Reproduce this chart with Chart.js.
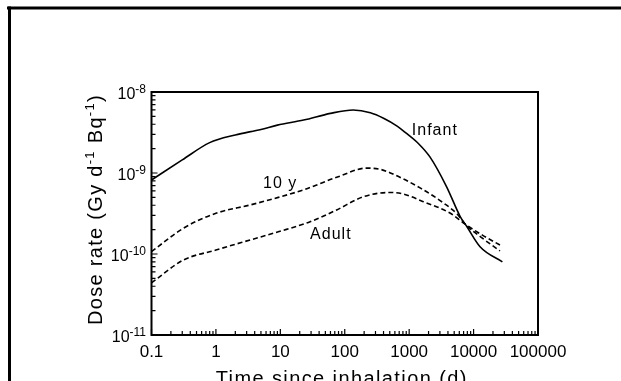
<!DOCTYPE html>
<html>
<head>
<meta charset="utf-8">
<title>Dose rate vs time since inhalation</title>
<script src="https://cdn.jsdelivr.net/npm/chart.js@4.4.1/dist/chart.umd.min.js"></script>
<style>
  html, body { margin: 0; padding: 0; background: #fff; }
  #wrap { position: relative; width: 621px; height: 381px; }
</style>
</head>
<body>
<div id="wrap"><canvas id="doseChart"></canvas></div>
<script>
// **************************
//    DATA
// **************************
const infantTime = [0.1, 0.3, 0.8, 2, 5, 9, 23, 60, 135, 250, 400, 650, 900, 1400, 2100, 3800, 6200, 7800, 12600, 28000];
const infantDose = [8.2e-10, 1.45e-9, 2.37e-9, 2.95e-9, 3.45e-9, 3.9e-9, 4.5e-9, 5.45e-9, 6.0e-9, 5.55e-9, 4.75e-9, 3.8e-9, 3.1e-9, 2.3e-9, 1.58e-9, 6.8e-10, 2.9e-10, 2.2e-10, 1.23e-10, 8.0e-11];

const tenYearTime = [0.1, 0.31, 1, 3.4, 9.3, 23, 75, 220, 355, 500, 1500, 3400, 5550, 7400, 13500, 25700];
const tenYearDose = [1.07e-10, 2.07e-10, 3.18e-10, 4.03e-10, 5.0e-10, 6.2e-10, 8.85e-10, 1.15e-9, 1.11e-9, 1.01e-9, 6.5e-10, 4.27e-10, 3.12e-10, 2.34e-10, 1.58e-10, 1.09e-10];

const adultTime = [0.1, 0.31, 1, 3.4, 9.3, 29, 75, 195, 500, 810, 1660, 4370, 7400, 13500, 25700];
const adultDose = [4.4e-11, 8.4e-11, 1.12e-10, 1.49e-10, 1.88e-10, 2.5e-10, 3.5e-10, 5.1e-10, 5.75e-10, 5.5e-10, 4.43e-10, 3.18e-10, 2.34e-10, 1.72e-10, 1.29e-10];

const xTickValues = [0.1, 1, 10, 100, 1000, 10000, 100000];
const yTickExponents = [-11, -10, -9, -8];

// curve names written next to the lines (anchor in data units)
const curveLabels = ["Infant", "10 y", "Adult"];
const curveLabelTime = [1100, 5.4, 29];
const curveLabelDose = [2.95e-9, 6.5e-10, 1.53e-10];

const FONT = "'Liberation Sans', Arial, Helvetica, sans-serif";
Chart.defaults.font.family = FONT;

function toPoints(times, doses) {
    return times.map((t, i) => ({ x: t, y: doses[i] }));
}

// draws text pieces, some of them raised as superscripts
function drawPieces(ctx, pieces, x, y, align) {
    const widths = pieces.map(p => {
        ctx.font = p.size + "px " + FONT;
        return ctx.measureText(p.text).width;
    });
    const total = widths.reduce((a, b) => a + b, 0);
    let cx = align === "right" ? x - total : align === "center" ? x - total / 2 : x;
    pieces.forEach((p, i) => {
        ctx.font = p.size + "px " + FONT;
        ctx.fillText(p.text, cx, y - (p.rise || 0));
        cx += widths[i];
    });
}

// **************************
//    FRAME, TICKS, TEXT
// **************************
const decorPlugin = {
    id: "decor",
    afterDraw(chart) {
        const ctx = chart.ctx;
        const xs = chart.scales.x;
        const ys = chart.scales.y;
        const { left, right, top, bottom } = chart.chartArea;

        ctx.save();
        ctx.fillStyle = "#000";
        ctx.strokeStyle = "#000";

        // outer frame: only top and left edges show
        ctx.fillRect(7, 6.5, 614, 3);
        ctx.fillRect(8, 6.5, 3, 381);

        // plot box
        ctx.lineWidth = 2;
        ctx.strokeRect(left, top, right - left, bottom - top);

        // inward tick marks
        ctx.lineWidth = 1.2;
        ctx.beginPath();
        for (let e = -1; e <= 5; e++) {
            for (let m = 1; m <= 9; m++) {
                const v = m * Math.pow(10, e);
                if (v > xs.max * 1.0001) break;
                const px = xs.getPixelForValue(v);
                const len = m === 1 ? 6 : 4;
                ctx.moveTo(px, bottom);
                ctx.lineTo(px, bottom - len);
            }
        }
        for (let e = -11; e <= -8; e++) {
            for (let m = 1; m <= 9; m++) {
                const v = m * Math.pow(10, e);
                if (v > ys.max * 1.0001) break;
                const py = ys.getPixelForValue(v);
                const len = m === 1 ? 6 : 4;
                ctx.moveTo(left, py);
                ctx.lineTo(left + len, py);
            }
        }
        ctx.stroke();

        // y tick labels: 10 with exponent
        ctx.textBaseline = "middle";
        ctx.textAlign = "left";
        yTickExponents.forEach(e => {
            const py = ys.getPixelForValue(Math.pow(10, e));
            drawPieces(ctx, [
                { text: "10", size: 16 },
                { text: "-" + Math.abs(e), size: 12, rise: 5 }
            ], left - 5.5, py + 3, "right");
        });

        // y axis title (rotated)
        ctx.save();
        ctx.translate(left - 49.5, (top + bottom) / 2 - 4);
        ctx.rotate(-Math.PI / 2);
        ctx.textBaseline = "alphabetic";
        ctx.letterSpacing = "1.3px";
        drawPieces(ctx, [
            { text: "Dose rate (Gy d", size: 20 },
            { text: "-1", size: 13, rise: 8 },
            { text: " Bq", size: 20 },
            { text: "-1", size: 13, rise: 8 },
            { text: ")", size: 20 }
        ], 0, 0, "center");
        ctx.restore();

        // x axis title (cut by the bottom edge in the original)
        ctx.save();
        ctx.letterSpacing = "1.4px";
        ctx.textBaseline = "alphabetic";
        drawPieces(ctx, [{ text: "Time since inhalation (d)", size: 20 }],
            (left + right) / 2 - 3, bottom + 50, "center");
        ctx.restore();

        // curve names
        ctx.save();
        ctx.letterSpacing = "1px";
        ctx.textBaseline = "alphabetic";
        curveLabels.forEach((name, i) => {
            const px = xs.getPixelForValue(curveLabelTime[i]);
            const py = ys.getPixelForValue(curveLabelDose[i]);
            drawPieces(ctx, [{ text: name, size: 16 }], px, py, "left");
        });
        ctx.restore();

        ctx.restore();
    }
};

// **************************
//    CHART
// **************************
new Chart(document.getElementById("doseChart"), {
    type: "line",
    data: {
        datasets: [
            { label: "Infant", data: toPoints(infantTime, infantDose), borderColor: "#000", borderWidth: 1.6 },
            { label: "10 y", data: toPoints(tenYearTime, tenYearDose), borderColor: "#000", borderWidth: 1.6, borderDash: [5, 3] },
            { label: "Adult", data: toPoints(adultTime, adultDose), borderColor: "#000", borderWidth: 1.6, borderDash: [5, 3] }
        ]
    },
    options: {
        responsive: true,
        maintainAspectRatio: false,
        animation: false,
        layout: { padding: { top: 92, right: 83, left: 0, bottom: 0 } },
        elements: {
            point: { radius: 0 },
            line: { cubicInterpolationMode: "monotone", fill: false }
        },
        plugins: {
            legend: { display: false },
            tooltip: { enabled: false }
        },
        scales: {
            x: {
                type: "logarithmic",
                min: 0.1,
                max: 100000,
                grid: { display: false, drawTicks: false },
                border: { display: false },
                afterBuildTicks: s => { s.ticks = xTickValues.map(v => ({ value: v })); },
                afterFit: s => { s.height = 46; },
                ticks: {
                    color: "#000",
                    font: { size: 17 },
                    padding: 7,
                    autoSkip: false,
                    maxRotation: 0,
                    callback: v => (v < 1 ? String(v) : v.toFixed(0))
                }
            },
            y: {
                type: "logarithmic",
                min: 1e-11,
                max: 1e-8,
                grid: { display: false, drawTicks: false },
                border: { display: false },
                ticks: { display: false },
                afterFit: s => { s.width = 151.5; }
            }
        }
    },
    plugins: [decorPlugin]
});
</script>
</body>
</html>
